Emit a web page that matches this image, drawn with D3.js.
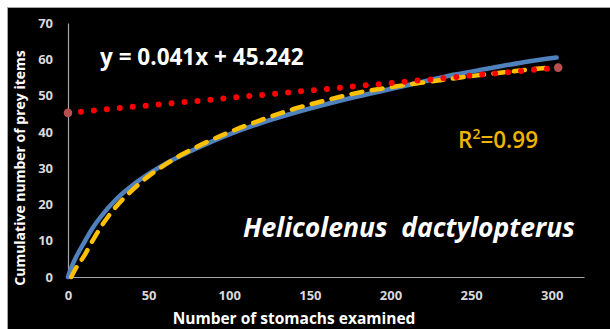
<!DOCTYPE html>
<html>
<head>
<meta charset="utf-8">
<script src="https://cdn.jsdelivr.net/npm/d3@7"></script>
<style>
  html, body { margin: 0; padding: 0; background: #ffffff; }
  svg { display: block; }
  text { font-family: "Open Sans", "Noto Sans", sans-serif; }
</style>
</head>
<body>
<svg id="chart" width="610" height="329"></svg>
<script>
// Cumulative prey curve (observed)
const observedX = [0, 2, 5, 10, 15, 20, 30, 40, 50, 60, 70, 80, 100, 120, 140, 160, 180, 200, 220, 240, 260, 280, 303];
const observedY = [0, 2.5, 5.5, 9.5, 13.3, 16.4, 21.5, 25.3, 28.4, 31.1, 33.4, 35.5, 39.3, 42.5, 45.2, 47.6, 49.8, 51.8, 53.8, 55.8, 57.4, 59.0, 60.5];

// Fitted curve (R² = 0.99)
const fittedX = [2, 5, 10, 15, 20, 30, 40, 50, 60, 70, 80, 100, 120, 140, 160, 180, 200, 220, 240, 260, 280, 300];
const fittedY = [0, 2.5, 5.8, 9.8, 13.5, 19.5, 24.0, 27.8, 30.9, 33.6, 35.9, 39.9, 43.3, 46.3, 48.7, 50.8, 52.3, 53.6, 54.8, 55.9, 56.9, 57.8];

// Linear trend: y = 0.041x + 45.242
const trendSlope = 0.041;
const trendIntercept = 45.242;
const trendRange = [0, 304];

const xTicks = [0, 50, 100, 150, 200, 250, 300];
const yTicks = [0, 10, 20, 30, 40, 50, 60, 70];

const svg = d3.select("#chart");

// Black panel with thin grey frame
svg.append("rect")
  .attr("x", 7.5).attr("y", 7.5)
  .attr("width", 610).attr("height", 330)
  .attr("fill", "#000000")
  .attr("stroke", "#a6a6a6")
  .attr("stroke-width", 1);

const x = d3.scaleLinear().domain([0, 320]).range([68, 584]);
const y = d3.scaleLinear().domain([0, 70]).range([277, 23]);

// Axes
const xAxis = svg.append("g")
  .attr("transform", `translate(0,${y(0)})`)
  .call(d3.axisBottom(x).tickValues(xTicks).tickSize(0).tickPadding(14));
const yAxis = svg.append("g")
  .attr("transform", `translate(${x(0)},0)`)
  .call(d3.axisLeft(y).tickValues(yTicks).tickSize(0).tickPadding(15));

[xAxis, yAxis].forEach(g => {
  g.select(".domain").attr("stroke", "#a6a6a6").attr("stroke-width", 1.2);
  g.selectAll("text")
    .attr("fill", "#d9d9d9")
    .attr("font-size", 13)
    .attr("font-weight", "bold")
    .attr("font-family", "'Open Sans', sans-serif");
});

// Axis titles
svg.append("text")
  .attr("x", 294).attr("y", 324)
  .attr("text-anchor", "middle")
  .attr("fill", "#ffffff")
  .attr("font-size", 15.5)
  .attr("font-weight", "bold")
  .text("Number of stomachs examined");

svg.append("text")
  .attr("transform", "translate(25,168) rotate(-90)")
  .attr("text-anchor", "middle")
  .attr("fill", "#ffffff")
  .attr("font-size", 14)
  .attr("font-weight", "bold")
  .text("Cumulative number of prey items");

const line = d3.line().x(d => x(d[0])).y(d => y(d[1])).curve(d3.curveMonotoneX);

// Observed cumulative curve
svg.append("path")
  .datum(d3.zip(observedX, observedY))
  .attr("d", line)
  .attr("fill", "none")
  .attr("stroke", "#4f81bd")
  .attr("stroke-width", 4.5)
  .attr("stroke-linecap", "round");

// Fitted curve (dashed)
svg.append("path")
  .datum(d3.zip(fittedX, fittedY))
  .attr("d", line)
  .attr("fill", "none")
  .attr("stroke", "#ffc000")
  .attr("stroke-width", 4.5)
  .attr("stroke-linecap", "round")
  .attr("stroke-dasharray", "11 9.5");

// Linear trend (round dots)
const trendPts = trendRange.map(v => [v, trendSlope * v + trendIntercept]);
svg.append("path")
  .datum(trendPts)
  .attr("d", d3.line().x(d => x(d[0])).y(d => y(d[1])))
  .attr("fill", "none")
  .attr("stroke", "#ff0000")
  .attr("stroke-width", 6)
  .attr("stroke-linecap", "round")
  .attr("stroke-dasharray", "0 13");

svg.selectAll("circle.end")
  .data(trendPts)
  .join("circle")
  .attr("class", "end")
  .attr("cx", d => x(d[0]))
  .attr("cy", d => y(d[1]))
  .attr("r", 4.3)
  .attr("fill", "#b5504f");

// Annotations
svg.append("text")
  .attr("x", 100).attr("y", 65)
  .attr("fill", "#ffffff")
  .attr("font-size", 22.5)
  .attr("font-weight", "bold")
  .text("y = 0.041x + 45.242");

const r2 = svg.append("text")
  .attr("x", 458).attr("y", 148)
  .attr("fill", "#f0b400")
  .attr("font-size", 22.5)
  .attr("font-weight", 600);
r2.append("tspan").text("R");
r2.append("tspan").attr("font-size", 14).attr("dy", -9).text("2");
r2.append("tspan").attr("dy", 9).text("=0.99");

svg.append("text")
  .attr("x", 243).attr("y", 237)
  .attr("fill", "#ffffff")
  .attr("font-size", 26.5)
  .attr("font-weight", "bold")
  .attr("font-style", "italic")
  .attr("xml:space", "preserve")
  .style("white-space", "pre")
  .text("Helicolenus  dactylopterus");
</script>
</body>
</html>
